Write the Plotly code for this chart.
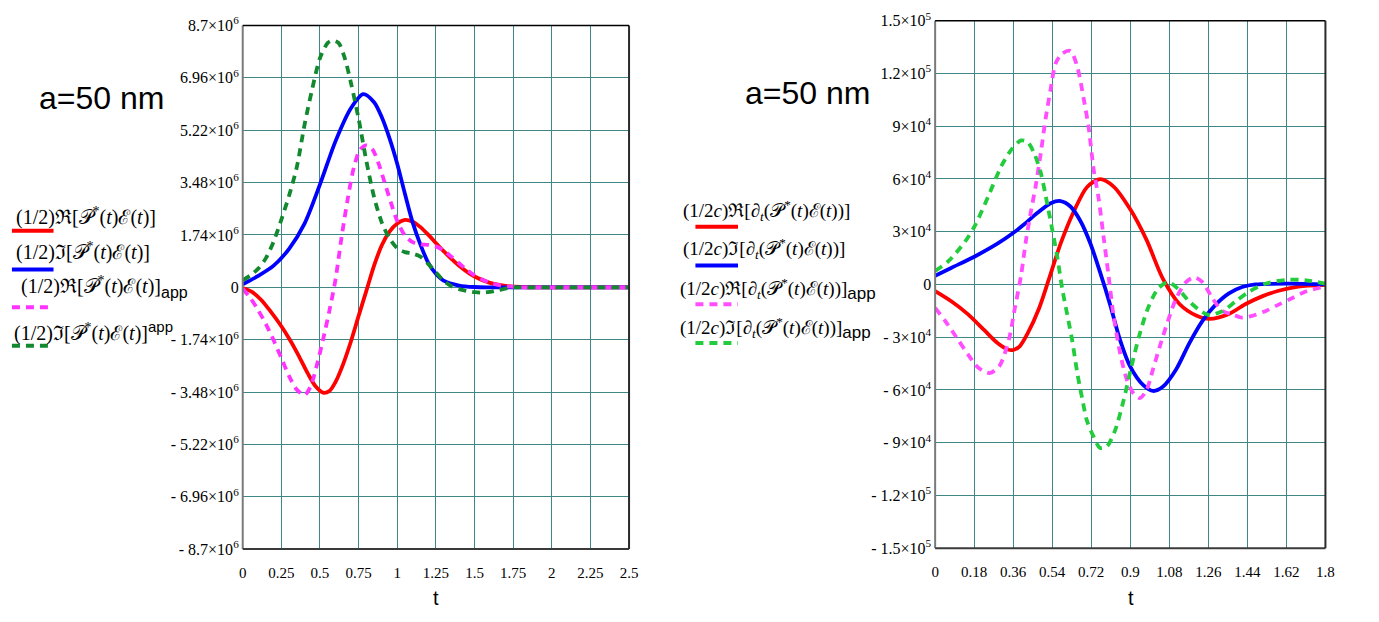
import numpy as np
import plotly.graph_objects as go

# ---------------- left panel: (1/2) Re/Im [P*(t) E(t)], values in units of 1e6 ----------------
L_SCALE = 1e6
l_re_t = [0, 0.06, 0.12, 0.18, 0.24, 0.30, 0.36, 0.42, 0.47, 0.52, 0.56, 0.60, 0.65, 0.70, 0.75,
          0.80, 0.85, 0.90, 0.95, 1.0, 1.05, 1.1, 1.15, 1.2, 1.3, 1.4, 1.5, 1.6, 1.7, 1.8, 2.0, 2.5]
l_re_v = [-0.02, -0.15, -0.42, -0.8, -1.22, -1.7, -2.25, -2.85, -3.28, -3.5, -3.45, -3.15, -2.55, -1.8,
          -0.95, -0.12, 0.72, 1.4, 1.85, 2.12, 2.24, 2.18, 2.0, 1.75, 1.2, 0.72, 0.36, 0.15, 0.05, 0.01,
          0, 0]

l_im_t = [0, 0.1, 0.2, 0.3, 0.4, 0.5, 0.6, 0.7, 0.78, 0.85, 0.9, 0.95, 1.0, 1.05, 1.1, 1.15,
          1.2, 1.25, 1.3, 1.4, 1.5, 1.6, 2.0, 2.5]
l_im_v = [0.1, 0.38, 0.72, 1.28, 2.12, 3.42, 4.85, 5.95, 6.42, 6.15, 5.65, 4.95, 4.1, 3.1, 2.15, 1.42,
          0.82, 0.45, 0.22, 0.06, 0.01, 0, 0, 0]

l_reapp_t = [0, 0.05, 0.1, 0.15, 0.2, 0.25, 0.3, 0.35, 0.4, 0.44, 0.48, 0.52, 0.56, 0.6, 0.64, 0.68,
             0.72, 0.76, 0.8, 0.84, 0.88, 0.92, 0.96, 1.0, 1.05, 1.1, 1.15, 1.2, 1.25, 1.3, 1.35, 1.4,
             1.45, 1.5, 1.55, 1.6, 1.65, 1.7, 1.8, 2.0, 2.5]
l_reapp_v = [-0.05, -0.36, -0.76, -1.22, -1.76, -2.35, -2.95, -3.4, -3.58, -3.28, -2.58, -1.73, -0.8,
             0.25, 1.68, 2.95, 4.0, 4.58, 4.72, 4.58, 4.1, 3.45, 2.8, 2.2, 1.72, 1.5, 1.43, 1.41, 1.36,
             1.22, 1.02, 0.8, 0.58, 0.4, 0.26, 0.15, 0.08, 0.04, 0, 0, 0]

l_imapp_t = [0, 0.05, 0.1, 0.15, 0.2, 0.25, 0.3, 0.35, 0.4, 0.45, 0.5, 0.55, 0.58, 0.62, 0.66, 0.7,
             0.75, 0.8, 0.85, 0.9, 0.95, 1.0, 1.05, 1.1, 1.15, 1.2, 1.25, 1.3, 1.35, 1.4, 1.45, 1.5,
             1.55, 1.6, 1.65, 1.7, 1.75, 1.8, 2.0, 2.5]
l_imapp_v = [0.23, 0.4, 0.62, 0.97, 1.52, 2.25, 3.05, 4.0, 5.4, 6.6, 7.62, 8.12, 8.2, 8.12, 7.62,
             6.8, 5.6, 4.2, 3.0, 2.15, 1.62, 1.3, 1.17, 1.12, 1.02, 0.78, 0.5, 0.22, 0.04, -0.06,
             -0.12, -0.16, -0.18, -0.15, -0.1, -0.04, 0, 0, 0, 0]

l_xticks = [0, 0.25, 0.5, 0.75, 1, 1.25, 1.5, 1.75, 2, 2.25, 2.5]
l_xtext = ["0", "0.25", "0.5", "0.75", "1", "1.25", "1.5", "1.75", "2", "2.25", "2.5"]
l_ymant = ["8.7", "6.96", "5.22", "3.48", "1.74", "0", "1.74", "3.48", "5.22", "6.96", "8.7"]
l_yticks = [8.7, 6.96, 5.22, 3.48, 1.74, 0, -1.74, -3.48, -5.22, -6.96, -8.7]

# ---------------- right panel: (1/2c) Re/Im [d/dt (P*(t) E(t))], values in units of 1e3 ----------------
R_SCALE = 1e3
r_re_t = [0, 0.076, 0.152, 0.228, 0.289, 0.335, 0.36, 0.39, 0.426, 0.48, 0.525, 0.579, 0.64, 0.70,
          0.761, 0.822, 0.9, 0.975, 1.05, 1.128, 1.204, 1.265, 1.355, 1.43, 1.508, 1.584, 1.675, 1.8]
r_re_v = [-3.8, -9.7, -17, -26.2, -33.5, -37.0, -37.3, -35.2, -28, -13.4, 3.1, 23.3, 41.6, 55.3,
          59.9, 55.8, 42.7, 25.3, 3.3, -11.3, -17.7, -19.6, -16.8, -11.3, -6.8, -3.6, -1.3, -0.3]

r_im_t = [0, 0.076, 0.183, 0.289, 0.358, 0.411, 0.472, 0.533, 0.579, 0.624, 0.67, 0.716, 0.761, 0.807,
          0.853, 0.898, 0.96, 1.005, 1.05, 1.112, 1.172, 1.233, 1.294, 1.355, 1.416, 1.477, 1.63, 1.8]
r_im_v = [4.9, 9.5, 15.9, 23.3, 29.1, 34.2, 40.7, 46.2, 47.4, 44.3, 36.1, 23.3, 6.8, -11.5,
          -31.7, -46.3, -57.3, -60.6, -58.2, -48.2, -33.5, -20.7, -11.5, -5.1, -1.5, 0, 0.4, 0]

r_reapp_t = [0, 0.046, 0.107, 0.152, 0.198, 0.251, 0.297, 0.343, 0.365, 0.396, 0.419, 0.442, 0.464,
             0.487, 0.51, 0.533, 0.556, 0.586, 0.624, 0.655, 0.685, 0.708, 0.731, 0.754, 0.777, 0.8,
             0.822, 0.853, 0.883, 0.914, 0.944, 0.975, 1.005, 1.036, 1.074, 1.112, 1.157, 1.195,
             1.233, 1.279, 1.325, 1.37, 1.416, 1.462, 1.523, 1.584, 1.645, 1.706, 1.8]
r_reapp_v = [-13.4, -20.7, -31.7, -39.9, -47.3, -50.4, -46.3, -29.9, -15.2, 4.9, 25.1, 41.6, 56.2,
             74.5, 94.7, 111.2, 125.8, 131.3, 132.8, 124, 105.7, 89.2, 65.4, 48.9, 26.9, 4.9,
             -17, -39, -53.7, -61.9, -64.7, -60.1, -48.2, -35.3, -20.7, -7.9, 1.3, 4,
             1.3, -7.9, -15.2, -17, -18.9, -17.9, -15.2, -11.5, -7.9, -4.2, -1.1]

r_imapp_t = [0, 0.061, 0.137, 0.183, 0.244, 0.305, 0.35, 0.396, 0.426, 0.457, 0.487, 0.518, 0.541,
             0.563, 0.586, 0.609, 0.632, 0.655, 0.678, 0.7, 0.731, 0.761, 0.792, 0.83, 0.868, 0.906,
             0.944, 0.982, 1.028, 1.074, 1.119, 1.172, 1.226, 1.264, 1.325, 1.386, 1.447, 1.523,
             1.63, 1.72, 1.8]
r_imapp_v = [7.7, 13.2, 24.2, 33.3, 49.8, 67.2, 76.4, 81.9, 81, 74.5, 63.6, 45.2, 30.6,
             15.9, -2.4, -17, -31.7, -50, -64.7, -77.5, -86.6, -93, -92.1, -83, -66.5, -46.3,
             -28, -13.4, -2.4, 1.3, -2.4, -9.7, -15.2, -17.4, -15.2, -9.7, -4.2, 0.4,
             2.7, 2.2, 0.4]

r_xticks = [0, 0.18, 0.36, 0.54, 0.72, 0.9, 1.08, 1.26, 1.44, 1.62, 1.8]
r_xtext = ["0", "0.18", "0.36", "0.54", "0.72", "0.9", "1.08", "1.26", "1.44", "1.62", "1.8"]
r_yticks = [150, 120, 90, 60, 30, 0, -30, -60, -90, -120, -150]
r_ytext = ["1.5×10<sup>5</sup>", "1.2×10<sup>5</sup>", "9×10<sup>4</sup>", "6×10<sup>4</sup>",
           "3×10<sup>4</sup>", "0", "- 3×10<sup>4</sup>", "- 6×10<sup>4</sup>", "- 9×10<sup>4</sup>",
           "- 1.2×10<sup>5</sup>", "- 1.5×10<sup>5</sup>"]

W, H = 1379, 622
GRID = "#3f8686"
RED, BLUE = "#ff0000", "#0000ff"
MAG_L, GRN_L = "#ff33ff", "#12892e"
MAG_R, GRN_R = "#ff4dff", "#22cc3c"
DASH = "8px,6px"
SERIF = "Liberation Serif"
SANS = "Liberation Sans"


def px(x):
    return x / W


def py(y):
    return 1 - y / H


def l_ylabel(m, v):
    if v == 0:
        return "0"
    sign = "- " if v < 0 else ""
    return f"{sign}{m}×10<sup>6</sup>"


fig = go.Figure()

left_series = [
    (l_re_t, l_re_v, RED, "solid"),
    (l_im_t, l_im_v, BLUE, "solid"),
    (l_reapp_t, l_reapp_v, MAG_L, DASH),
    (l_imapp_t, l_imapp_v, GRN_L, DASH),
]
for t, v, c, d in left_series:
    fig.add_trace(go.Scatter(x=t, y=np.array(v) * L_SCALE, mode="lines", xaxis="x", yaxis="y",
                             line=dict(color=c, width=3.8, dash=d, shape="spline", smoothing=0.8),
                             showlegend=False, hoverinfo="skip"))

right_series = [
    (r_re_t, r_re_v, RED, "solid"),
    (r_im_t, r_im_v, BLUE, "solid"),
    (r_reapp_t, r_reapp_v, MAG_R, DASH),
    (r_imapp_t, r_imapp_v, GRN_R, DASH),
]
for t, v, c, d in right_series:
    fig.add_trace(go.Scatter(x=t, y=np.array(v) * R_SCALE, mode="lines", xaxis="x2", yaxis="y2",
                             line=dict(color=c, width=3.8, dash=d, shape="spline", smoothing=0.8),
                             showlegend=False, hoverinfo="skip"))

xcommon = dict(showgrid=True, gridcolor=GRID, gridwidth=1.4, zeroline=False, showline=False,
               ticks="", tickfont=dict(family=SERIF, size=15, color="black"),
               ticklabelstandoff=13, fixedrange=True)
ycommon = dict(showgrid=True, gridcolor=GRID, gridwidth=1.4, zeroline=False, showline=False,
               ticks="", tickfont=dict(family=SERIF, size=16, color="black"),
               ticklabelstandoff=3, fixedrange=True)

fig.update_layout(
    width=W, height=H,
    margin=dict(l=0, r=0, t=0, b=0),
    paper_bgcolor="white", plot_bgcolor="white",
    xaxis=dict(domain=[px(241), px(631)], range=[0, 2.5], anchor="y",
               tickvals=l_xticks, ticktext=l_xtext, **xcommon),
    yaxis=dict(domain=[py(556), py(15)], range=[-8.7 * L_SCALE, 8.7 * L_SCALE], anchor="x",
               tickvals=[v * L_SCALE for v in l_yticks],
               ticktext=[l_ylabel(m, v) for m, v in zip(l_ymant, l_yticks)], **ycommon),
    xaxis2=dict(domain=[px(940), px(1334)], range=[0, 1.8], anchor="y2",
                tickvals=r_xticks, ticktext=r_xtext, **xcommon),
    yaxis2=dict(domain=[py(555), py(10)], range=[-150 * R_SCALE, 150 * R_SCALE], anchor="x2",
                tickvals=[v * R_SCALE for v in r_yticks], ticktext=r_ytext, **ycommon),
)

# plot frames: grey left edge, dark bottom/right, black top
for xd, yd in (("x domain", "y domain"), ("x2 domain", "y2 domain")):
    fig.add_shape(type="line", xref=xd, yref=yd, x0=0, x1=0, y0=0, y1=1,
                  line=dict(color="#7a7a7a", width=2))
    fig.add_shape(type="line", xref=xd, yref=yd, x0=0, x1=1, y0=0, y1=0,
                  line=dict(color="#3a3a3a", width=2))
    fig.add_shape(type="line", xref=xd, yref=yd, x0=1, x1=1, y0=0, y1=1,
                  line=dict(color="#2a2a2a", width=2))
    fig.add_shape(type="line", xref=xd, yref=yd, x0=0, x1=1, y0=1, y1=1,
                  line=dict(color="black", width=1.5))

# panel captions and axis titles
for cx, cy in ((98, 90), (811, 85)):
    fig.add_annotation(x=px(cx), y=py(cy), xref="paper", yref="paper", text="a=50 nm",
                       showarrow=False, xanchor="center", yanchor="middle",
                       font=dict(family=SANS, size=32, color="black"))
for cx in (436, 1138):
    fig.add_annotation(x=px(cx), y=py(606), xref="paper", yref="paper", text="t",
                       showarrow=False, xanchor="center", yanchor="middle",
                       font=dict(family=SANS, size=20, color="black"))

P = "𝒫<sup>*</sup>(<i>t</i>)ℰ(<i>t</i>)"
DT = "∂<sub><i>t</i></sub>"


def app(size):
    return f"<span style='font-family:Liberation Sans;font-size:{size}px'>app</span>"


left_legend = [
    (10, 212, f"(1/2)ℜ[{P}]", 227, RED, "solid"),
    (10, 248, f"(1/2)ℑ[{P}]", 267, BLUE, "solid"),
    (15, 285, f"(1/2)ℜ[{P}]<sub>{app(16)}</sub>", 306, MAG_L, DASH),
    (8, 331, f"(1/2)ℑ[{P}]<sup>{app(15)}</sup>", 346, GRN_L, DASH),
]
for x0, ty, txt, ly, c, d in left_legend:
    fig.add_annotation(x=px(x0), y=py(ty), xref="paper", yref="paper", text=txt, showarrow=False,
                       xanchor="left", yanchor="middle", font=dict(family=SERIF, size=20, color="black"))
    fig.add_shape(type="line", xref="paper", yref="paper", x0=px(8), x1=px(50), y0=py(ly), y1=py(ly),
                  line=dict(color=c, width=4, dash=d))

right_legend = [
    (683, 206, f"(1/2<i>c</i>)ℜ[{DT}({P})]", 223, RED, "solid"),
    (683, 245, f"(1/2<i>c</i>)ℑ[{DT}({P})]", 263, BLUE, "solid"),
    (680, 287, f"(1/2<i>c</i>)ℜ[{DT}({P})]<sub>{app(17)}</sub>", 303, MAG_R, DASH),
    (680, 328, f"(1/2<i>c</i>)ℑ[{DT}({P})]<sub>{app(17)}</sub>", 343, GRN_R, DASH),
]
for x0, ty, txt, ly, c, d in right_legend:
    fig.add_annotation(x=px(x0), y=py(ty), xref="paper", yref="paper", text=txt, showarrow=False,
                       xanchor="left", yanchor="middle", font=dict(family=SERIF, size=19, color="black"))
    fig.add_shape(type="line", xref="paper", yref="paper", x0=px(698), x1=px(741), y0=py(ly), y1=py(ly),
                  line=dict(color=c, width=4, dash=d))

fig.write_html("out.html")
